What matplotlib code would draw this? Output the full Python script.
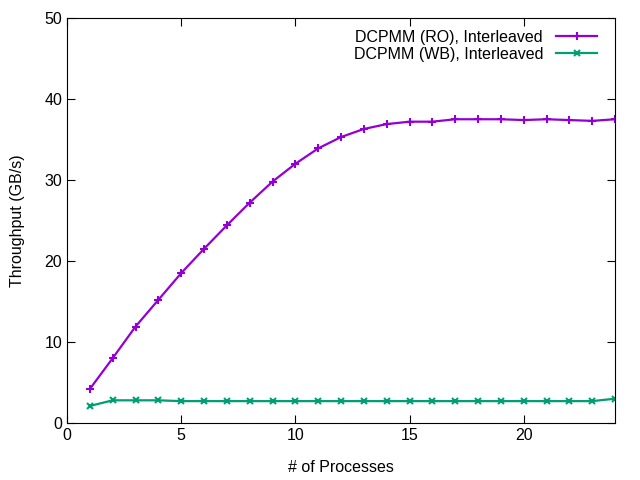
import matplotlib
matplotlib.use('Agg')
import matplotlib.pyplot as plt

plt.rcParams['font.family'] = ['Liberation Sans', 'DejaVu Sans']

procs = list(range(1, 25))
ro_tput = [4.2, 8.0, 11.9, 15.2, 18.5, 21.5, 24.4, 27.2, 29.8, 32.0, 33.9, 35.3,
           36.3, 36.9, 37.2, 37.2, 37.5, 37.5, 37.5, 37.4, 37.5, 37.4, 37.3, 37.5]
wb_tput = [2.1, 2.8, 2.8, 2.8, 2.7, 2.7, 2.7, 2.7, 2.7, 2.7, 2.7, 2.7,
           2.7, 2.7, 2.7, 2.7, 2.7, 2.7, 2.7, 2.7, 2.7, 2.7, 2.7, 3.0]

fig = plt.figure(figsize=(6.4, 4.8), dpi=100)
ax = fig.add_axes([67/640, 57/480, 548/640, 405/480])

ax.plot(procs, ro_tput, color='#9400D3', marker='+', markersize=6, mew=1.5, lw=1.6,
        label='DCPMM (RO), Interleaved')
ax.plot(procs, wb_tput, color='#009E73', marker='x', markersize=5, mew=1.5, lw=1.6,
        label='DCPMM (WB), Interleaved')

ax.set_xlim(0, 24)
ax.set_ylim(0, 50)
ax.set_xticks([0, 5, 10, 15, 20])
ax.set_yticks([0, 10, 20, 30, 40, 50])
ax.tick_params(direction='in', top=True, right=True, length=6, labelsize=11.5)
ax.set_xlabel('# of Processes', fontsize=11.5, labelpad=12)
ax.set_ylabel('Throughput (GB/s)', fontsize=11.5, labelpad=14)

ax.legend(loc='upper right', bbox_to_anchor=(1 - 8/548, 1 - 2/405), frameon=False,
          markerfirst=False, fontsize=11.5, handlelength=2.6, borderaxespad=0.2,
          labelspacing=0.15)

fig.savefig('out.png', dpi=100)
